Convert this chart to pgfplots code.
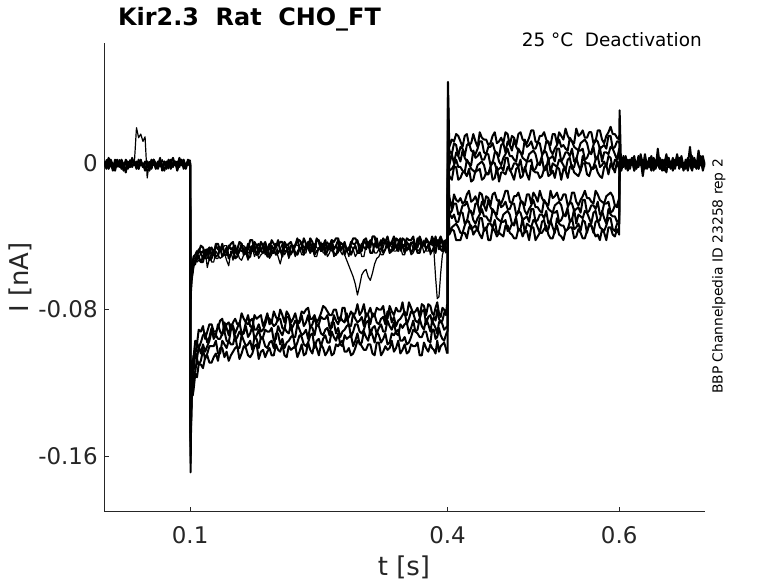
\documentclass[border=0pt]{standalone}
\usepackage{fontspec}
\setmainfont{DejaVu Sans}
\usepackage{pgfplots}
\usepackage{pgfplotstable}
\pgfplotsset{compat=1.18}
\definecolor{axc}{RGB}{38,38,38}

% time in ms, current in pA (ticks labelled in s and nA)
\pgfplotstableread{
t P1 P2 P3 P4
0 -2 1 -1 1
2.5 1 -3 2 -2
5 -3 0 -2 3
7.5 0 2 1 -1
10 -4 -1 -3 0
12.5 2 -4 0 -3
15 -1 1 -2 2
17.5 1 -2 2 -1
20 -3 2 -1 1
22.5 0 -1 -4 -4
25 -5 1 1 2
27.5 1 -3 -2 0
30 -2 0 2 -2
32.5 2 -2 -1 3
35 -1 1 0 -1
37.5 0 -3 19.5 1
40 -3 2 14 -3
42.5 1 -1 16 2
45 -2 0 12 -2
47.5 1 -4 14.5 0
50 -1 1 -8 1
52.5 -4 -2 1 -1
55 0 2 -2 -3
57.5 2 -1 0 2
60 -3 0 -3 0
62.5 1 -3 1 -2
65 -1 2 -2 3
67.5 -2 -1 2 -4
70 1 -4 -1 1
72.5 -3 1 0 -1
75 0 -2 -3 2
77.5 2 0 1 -3
80 -2 3 -2 0
82.5 1 -1 0 1
85 -4 1 -2 -2
87.5 0 -2 2 3
90 -1 2 -1 -1
92.5 2 -3 1 0
95 -3 0 -2 -2
97.5 1 -1 1 2
100 -1 2 0 0
}\pre

\pgfplotstableread{
t A1 A2 A3 A4 A5 B1 B2 B3 B4 B5
100 0 -1 1 0 -1 0 1 -1 0 -1
100.5 -80 -72 -66 -60 -56 -150 -155 -160 -164 -169
101 -68 -66 -62 -70 -64 -130 -136 -140 -144 -148
102 -57 -61 -59 -63 -62 -110 -118 -119 -127 -126
103 -54 -58 -55 -60 -59 -108 -113 -117 -121 -127
104 -51 -55 -53 -56 -57 -106 -105 -114 -115 -124
106 -50 -53 -51 -55 -52 -97 -105 -104 -114 -115
108 -48 -52 -53 -50 -54 -99 -98 -107 -107 -117
110 -49 -47 -52 -51 -53 -91 -101 -100 -110 -110
112.5 -45 -49 -49 -54 -54 -92 -98 -104 -108 -110
115 -46 -48 -53 -54 -50 -89 -94 -99 -102 -112
117.5 -50 -52 -47 -48 -52 -96 -93 -103 -107 -106
120 -50 -48 -57 -47 -52 -92 -98 -100 -104 -105
122.5 -47 -46 -52 -53 -48 -88 -95 -97 -100 -109
125 -46 -50 -50 -52 -54 -88 -90 -92 -100 -109
127.5 -50 -50 -47 -49 -54 -92 -96 -93 -100 -106
130 -44 -45 -52 -51 -48 -92 -94 -94 -97 -104
132.5 -44 -47 -52 -50 -50 -90 -88 -96 -104 -108
135 -48 -48 -46 -46 -52 -86 -92 -96 -104 -101
137.5 -45 -44 -47 -51 -51 -85 -94 -93 -97 -101
140 -49 -50 -45 -49 -49 -92 -87 -92 -99 -106
142.5 -47 -50 -45 -46 -53 -88 -90 -97 -101 -103
145 -46 -45 -50 -52 -56 -87 -94 -98 -97 -108
147.5 -44 -47 -50 -50 -48 -91 -88 -91 -99 -105
150 -43 -46 -48 -47 -53 -87 -89 -90 -99 -103
152.5 -49 -45 -51 -52 -47 -85 -93 -97 -94 -101
155 -47 -50 -51 -51 -48 -88 -90 -95 -101 -100
157.5 -43 -48 -48 -47 -52 -88 -87 -92 -101 -107
160 -44 -44 -45 -48 -53 -82 -93 -94 -94 -104
162.5 -48 -50 -45 -48 -50 -85 -92 -93 -97 -100
165 -49 -49 -47 -46 -49 -87 -87 -89 -100 -101
167.5 -47 -44 -49 -52 -53 -83 -88 -95 -99 -105
170 -42 -46 -48 -51 -46 -89 -86 -93 -97 -106
172.5 -42 -48 -45 -45 -46 -90 -85 -89 -102 -104
175 -48 -43 -45 -48 -51 -83 -91 -96 -95 -100
177.5 -45 -45 -50 -50 -48 -85 -91 -94 -96 -99
180 -44 -49 -50 -46 -52 -84 -88 -91 -101 -107
182.5 -48 -43 -44 -48 -50 -83 -92 -96 -95 -103
185 -45 -45 -44 -49 -49 -89 -91 -95 -96 -102
187.5 -43 -49 -50 -45 -47 -86 -88 -91 -100 -106
190 -47 -47 -49 -51 -46 -82 -84 -92 -101 -103
192.5 -47 -44 -46 -51 -52 -88 -85 -92 -98 -101
195 -42 -49 -48 -45 -50 -87 -87 -90 -97 -105
197.5 -44 -49 -47 -47 -46 -81 -89 -97 -101 -105
200 -46 -44 -44 -50 -47 -84 -88 -96 -93 -99
202.5 -42 -45 -49 -49 -51 -86 -85 -89 -93 -102
205 -48 -43 -47 -47 -55 -80 -85 -92 -99 -103
207.5 -48 -43 -44 -51 -50 -83 -90 -94 -96 -99
210 -43 -48 -50 -45 -46 -87 -91 -90 -101 -105
212.5 -45 -48 -48 -46 -46 -81 -84 -92 -98 -106
215 -44 -46 -45 -51 -52 -83 -84 -93 -97 -100
217.5 -43 -49 -50 -45 -49 -87 -91 -88 -95 -102
220 -47 -48 -48 -45 -47 -85 -89 -95 -94 -101
222.5 -45 -45 -44 -49 -51 -82 -86 -95 -101 -100
225 -41 -42 -45 -50 -48 -87 -88 -88 -98 -106
227.5 -47 -42 -45 -47 -46 -86 -87 -91 -94 -103
230 -46 -44 -43 -46 -50 -81 -83 -94 -95 -99
232.5 -41 -46 -49 -50 -50 -82 -89 -93 -99 -105
235 -44 -46 -49 -44 -45 -80 -87 -91 -100 -104
237.5 -46 -43 -43 -44 -47 -79 -83 -96 -98 -98
240 -41 -43 -46 -49 -49 -85 -90 -89 -94 -102
242.5 -43 -48 -48 -46 -45 -85 -88 -90 -93 -104
245 -47 -48 -44 -50 -51 -83 -84 -94 -101 -98
247.5 -41 -42 -46 -48 -51 -87 -89 -88 -97 -101
250 -43 -42 -47 -47 -46 -85 -88 -89 -96 -105
252.5 -47 -48 -43 -45 -48 -82 -84 -93 -100 -99
255 -45 -47 -49 -44 -47 -78 -85 -94 -96 -101
257.5 -42 -44 -49 -50 -46 -79 -85 -91 -94 -105
260 -47 -46 -43 -48 -51 -81 -83 -90 -98 -103
262.5 -47 -45 -45 -44 -49 -83 -90 -94 -98 -100
265 -42 -42 -48 -45 -45 -83 -90 -87 -92 -105
267.5 -43 -47 -47 -49 -51 -80 -83 -87 -95 -104
270 -41 -45 -45 -50 -50 -80 -86 -93 -97 -99
272.5 -41 -42 -49 -48 -45 -85 -88 -90 -93 -100
275 -46 -48 -43 -44 -48 -86 -84 -95 -99 -98
277.5 -46 -46 -44 -44 -50 -79 -86 -92 -100 -97
280 -44 -43 -50 -50 -45 -79 -87 -91 -94 -103
282.5 -47 -48 -53 -47 -47 -86 -82 -89 -96 -103
285 -47 -47 -56 -46 -51 -84 -89 -88 -95 -101
287.5 -44 -43 -59 -50 -45 -81 -89 -95 -94 -105
290 -41 -44 -62 -47 -47 -83 -82 -92 -100 -104
292.5 -41 -44 -66 -45 -51 -82 -85 -88 -97 -101
295 -43 -42 -72 -49 -49 -77 -87 -88 -93 -97
297.5 -45 -48 -67 -49 -46 -83 -86 -92 -99 -98
300 -45 -48 -61 -44 -51 -81 -84 -93 -98 -100
302.5 -42 -42 -59 -46 -51 -77 -89 -91 -92 -102
305 -41 -44 -58 -47 -45 -84 -82 -87 -95 -102
307.5 -46 -46 -62 -43 -46 -82 -83 -86 -97 -99
310 -46 -42 -64 -49 -44 -79 -88 -94 -91 -99
312.5 -40 -44 -60 -49 -44 -84 -82 -90 -94 -104
315 -40 -45 -55 -44 -49 -83 -83 -89 -98 -105
317.5 -46 -41 -52 -46 -49 -79 -87 -93 -92 -98
320 -45 -47 -51 -45 -47 -80 -88 -90 -94 -98
322.5 -42 -47 -48 -44 -50 -80 -85 -88 -98 -105
325 -44 -41 -46 -49 -50 -78 -84 -92 -96 -103
327.5 -43 -43 -42 -47 -47 -85 -88 -92 -93 -100
330 -40 -46 -43 -43 -44 -85 -81 -86 -99 -102
332.5 -45 -45 -47 -49 -44 -78 -81 -89 -98 -101
335 -43 -43 -48 -48 -46 -81 -87 -91 -93 -97
337.5 -40 -47 -46 -43 -48 -83 -84 -87 -94 -103
340 -46 -41 -42 -46 -48 -79 -89 -93 -92 -101
342.5 -44 -42 -42 -48 -45 -81 -86 -94 -91 -97
345 -41 -47 -48 -43 -45 -81 -85 -88 -97 -104
347.5 -46 -41 -45 -45 -50 -76 -83 -90 -97 -102
350 -45 -42 -44 -49 -50 -83 -81 -88 -95 -99
352.5 -41 -46 -48 -43 -44 -83 -88 -87 -99 -104
355 -42 -47 -45 -45 -44 -76 -85 -93 -98 -103
357.5 -42 -44 -43 -49 -50 -79 -81 -90 -95 -99
360 -40 -43 -47 -47 -49 -82 -82 -86 -91 -100
362.5 -46 -47 -47 -44 -46 -81 -86 -92 -92 -100
365 -46 -41 -42 -49 -48 -79 -87 -91 -93 -98
367.5 -40 -41 -44 -49 -47 -84 -85 -85 -95 -105
370 -43 -46 -46 -44 -44 -77 -81 -89 -95 -105
372.5 -45 -43 -42 -45 -49 -78 -80 -91 -92 -98
375 -41 -47 -48 -43 -47 -83 -88 -85 -92 -101
377.5 -43 -45 -48 -43 -44 -77 -84 -88 -97 -103
380 -44 -44 -43 -48 -50 -78 -83 -92 -98 -99
382 -40 -42 -45 -48 -48 -82 -87 -86 -91 -101
384 -46 -41 -44 -46 -47 -83 -84 -88 -91 -102
386 -40 -45 -48 -49 -62 -79 -86 -90 -96 -104
388 -45 -42 -42 -43 -74 -76 -80 -93 -95 -97
390 -42 -47 -47 -45 -73 -82 -85 -87 -90 -103
392 -40 -41 -45 -47 -60 -84 -87 -86 -94 -100
394 -43 -44 -46 -48 -50 -79 -86 -88 -96 -99
396 -46 -47 -42 -44 -47 -80 -82 -91 -97 -98
398 -44 -42 -45 -47 -49 -83 -81 -90 -94 -101
399.5 -41 -43 -48 -49 -45 -77 -83 -89 -92 -104
}\grp

\pgfplotstableread{
t A1 A2 A3 A4 A5 B1 B2 B3 B4 B5
400 -41 -43 -48 -49 -45 -77 -83 -89 -92 -104
400.5 44.5 36 30 24 18 12 6 0 -6 -10
402 9 7 -1 -4 -7 -18 -28 -27 -38 -39
405 13 5 5 -3 -9 -25 -26 -30 -35 -36
407.5 12 11 0 -1 -2 -17 -22 -28 -34 -37
410 16 10 6 2 -2 -20 -22 -32 -33 -42
412.5 15 4 4 -2 -9 -21 -28 -32 -35 -42
415 12 9 1 -2 -8 -19 -27 -27 -38 -42
417.5 9 8 7 -4 -5 -22 -23 -27 -38 -38
420 15 4 3 -5 -5 -21 -23 -33 -34 -38
422.5 16 10 1 2 -7 -17 -21 -32 -31 -41
425 10 11 0 0 -3 -15 -25 -26 -32 -35
427.5 11 7 -1 -3 -10 -21 -27 -26 -36 -34
430 16 6 7 -4 -9 -20 -28 -31 -35 -39
432.5 12 5 3 -5 -4 -18 -22 -33 -34 -37
435 9 8 4 -1 -4 -22 -22 -30 -37 -36
437.5 17 12 6 0 -3 -16 -27 -28 -30 -39
440 14 12 2 1 -9 -17 -21 -25 -30 -41
442.5 13 6 2 -1 -8 -23 -23 -29 -37 -36
445 13 5 5 -6 -5 -18 -26 -29 -36 -35
447.5 10 9 5 -6 -6 -19 -20 -31 -33 -42
450 11 9 -1 -2 -2 -23 -24 -32 -33 -42
452.5 15 11 0 1 -9 -17 -26 -25 -35 -35
455 17 7 6 0 -8 -16 -27 -27 -31 -37
457.5 11 5 6 -4 -2 -20 -28 -30 -38 -40
460 12 4 1 -3 -10 -21 -20 -31 -37 -38
462.5 14 10 -1 -2 -5 -22 -24 -32 -32 -39
465 11 11 3 -4 -5 -19 -23 -28 -32 -40
467.5 17 6 5 3 -6 -15 -21 -27 -31 -34
470 16 12 8 3 -2 -15 -25 -26 -37 -34
472.5 10 10 4 -4 -3 -21 -25 -28 -36 -38
475 15 7 4 -3 -6 -22 -22 -33 -33 -39
477.5 14 13 2 0 -9 -18 -22 -33 -34 -41
480 10 9 1 0 -3 -18 -28 -29 -30 -41
482.5 16 7 8 -2 -2 -16 -27 -26 -37 -36
485 17 6 6 2 -8 -20 -21 -27 -36 -36
487.5 13 5 3 -5 -7 -22 -21 -31 -30 -40
490 12 13 2 -4 -2 -23 -26 -30 -38 -37
492.5 11 9 1 1 -6 -17 -28 -29 -33 -37
495 14 10 5 1 -9 -17 -25 -32 -34 -42
497.5 18 12 6 2 -1 -22 -23 -25 -35 -35
500 18 8 7 -4 -4 -16 -20 -25 -31 -35
502.5 12 8 5 -3 -5 -18 -24 -32 -32 -42
505 11 11 0 0 -5 -21 -24 -31 -35 -40
507.5 15 11 0 -1 -8 -15 -26 -28 -38 -38
510 15 5 4 3 -7 -19 -27 -28 -32 -38
512.5 17 6 7 -4 -3 -21 -20 -30 -31 -36
515 13 12 6 -3 -1 -22 -22 -26 -37 -34
517.5 11 12 2 3 -7 -23 -25 -33 -36 -39
520 10 7 3 -5 -6 -15 -26 -32 -31 -41
522.5 16 5 4 0 -4 -19 -27 -27 -35 -41
525 16 8 1 -1 -8 -18 -23 -27 -38 -37
527.5 11 10 8 -2 -2 -16 -22 -26 -30 -34
530 17 13 8 2 -3 -20 -21 -32 -33 -39
532.5 15 9 1 1 -9 -20 -23 -31 -34 -40
535 13 10 3 -1 -3 -17 -28 -28 -34 -42
537.5 19 8 6 -4 -4 -17 -28 -29 -37 -37
540 15 7 6 2 -8 -23 -24 -25 -36 -36
542.5 13 14 4 3 -2 -22 -21 -32 -32 -35
545 12 12 8 -3 -1 -16 -22 -31 -30 -35
547.5 11 9 1 -2 -5 -16 -26 -25 -36 -41
550 19 8 2 3 -6 -21 -25 -33 -35 -40
552.5 15 7 7 -1 -7 -23 -24 -28 -33 -36
555 16 11 7 -4 -4 -20 -27 -29 -37 -38
557.5 18 12 8 4 0 -18 -20 -30 -31 -41
560 14 13 2 1 0 -15 -20 -26 -32 -41
562.5 14 11 3 0 -6 -19 -27 -27 -38 -37
565 17 6 6 0 -7 -19 -26 -30 -33 -34
567.5 17 6 5 -3 -3 -21 -23 -33 -34 -34
570 11 10 9 -2 -3 -22 -23 -27 -38 -37
572.5 12 13 2 2 -1 -15 -25 -26 -32 -40
575 18 12 3 4 -5 -17 -21 -32 -31 -39
577.5 18 8 9 -2 -7 -20 -28 -31 -35 -42
580 13 9 1 -1 -8 -21 -27 -26 -36 -36
582.5 11 10 6 1 -2 -22 -22 -30 -37 -38
585 15 8 6 -2 -1 -18 -22 -33 -34 -42
587.5 17 15 5 4 -6 -17 -21 -25 -30 -35
590 20 15 9 3 0 -16 -27 -28 -30 -35
592.5 16 8 8 -3 -2 -18 -26 -29 -36 -39
595 16 9 5 2 -5 -23 -23 -29 -37 -40
597.5 14 12 2 1 1 -23 -24 -32 -33 -36
600 13 12 8 -3 -3 -19 -20 -31 -33 -39
600.5 29 4 2 0 -2 -3 -2 1 -1 2
602 2 -1 1 -2 0 1 -2 0 2 -1
}\tail

\pgfplotstableread{
t Q1 Q2 Q3 Q4
600 0 -1 1 -3
602.5 3 -2 -4 2
605 -2 4 1 -1
607.5 1 -3 3 4
610 -4 2 -1 -2
612.5 2 -1 -3 0
615 -1 3 2 3
617.5 4 -4 0 -4
620 -3 1 -2 1
622.5 0 -2 4 -1
625 2 5 -1 2
627.5 -7 -1 2 -3
630 1 2 -3 5
632.5 -2 -3 1 -2
635 3 0 -2 0
637.5 -1 4 3 -4
640 2 -2 -4 3
642.5 -3 1 0 1
645 8 -1 2 -1
647.5 -2 3 -3 -3
650 1 -4 1 2
652.5 -4 2 -1 0
655 2 -1 5 -5
657.5 0 3 -2 3
660 -3 -2 1 -1
662.5 3 1 -4 2
665 -1 -3 2 -2
667.5 5 2 -1 4
670 -2 -1 3 -3
672.5 1 4 -2 1
675 -4 -2 0 0
677.5 2 1 -3 -2
680 -1 -4 2 3
682.5 9 2 -1 -1
685 -2 -1 4 -4
687.5 1 3 -2 2
690 -3 -2 1 1
692.5 2 7 -3 -3
695 -1 -1 2 4
697.5 4 2 -4 -1
700 -2 -1 1 0
}\post

\begin{document}
\begin{tikzpicture}
\begin{axis}[
  at={(0,0)}, anchor=south west,
  scale only axis, width=600.7bp, height=468.7bp,
  xmin=0, xmax=700, ymin=-190.5, ymax=65.8,
  axis x line*=bottom, axis y line*=left,
  axis line style={draw=axc, line width=0.6bp},
  xtick={100,400,600}, xticklabels={0.1,0.4,0.6},
  ytick={-160,-80,0}, yticklabels={-0.16,-0.08,0},
  minor tick num=0,
  tick align=inside, major tick length=5bp,
  tick style={draw=axc, line width=0.6bp},
  tick label style={font=\fontsize{23}{27}\selectfont, text=axc},
  xticklabel style={anchor=north, inner sep=0pt, yshift=-15bp},
  yticklabel style={anchor=east, inner sep=0pt, xshift=-6.5bp},
  tr/.style={draw=black, line width=2bp, mark=none, solid, line join=round},
  thin tr/.style={draw=black, line width=1.2bp, mark=none, solid, line join=round},
]
\addplot[tr] table[x=t,y=P1]{\pre};
\addplot[tr] table[x=t,y=P2]{\pre};
\addplot[thin tr] table[x=t,y=P3]{\pre};
\addplot[tr] table[x=t,y=P4]{\pre};
\addplot[tr] table[x=t,y=A1]{\grp};
\addplot[tr] table[x=t,y=A2]{\grp};
\addplot[thin tr] table[x=t,y=A3]{\grp};
\addplot[tr] table[x=t,y=A4]{\grp};
\addplot[thin tr] table[x=t,y=A5]{\grp};
\addplot[tr] table[x=t,y=B1]{\grp};
\addplot[tr] table[x=t,y=B2]{\grp};
\addplot[tr] table[x=t,y=B3]{\grp};
\addplot[tr] table[x=t,y=B4]{\grp};
\addplot[tr] table[x=t,y=B5]{\grp};
\addplot[tr] table[x=t,y=A1]{\tail};
\addplot[tr] table[x=t,y=A2]{\tail};
\addplot[tr] table[x=t,y=A3]{\tail};
\addplot[tr] table[x=t,y=A4]{\tail};
\addplot[tr] table[x=t,y=A5]{\tail};
\addplot[tr] table[x=t,y=B1]{\tail};
\addplot[tr] table[x=t,y=B2]{\tail};
\addplot[tr] table[x=t,y=B3]{\tail};
\addplot[tr] table[x=t,y=B4]{\tail};
\addplot[tr] table[x=t,y=B5]{\tail};
\addplot[tr] table[x=t,y=Q1]{\post};
\addplot[tr] table[x=t,y=Q2]{\post};
\addplot[tr] table[x=t,y=Q3]{\post};
\addplot[tr] table[x=t,y=Q4]{\post};
\end{axis}
\node[anchor=base, inner sep=0pt, font=\fontsize{26}{30}\selectfont, text=axc] at (299.7bp,-63.3bp) {t [s]};
\node[anchor=base, rotate=90, inner sep=0pt, font=\fontsize{26}{30}\selectfont, text=axc] at (-76bp,234.2bp) {I [nA]};
\node[anchor=base west, inner sep=0pt, font=\fontsize{24}{29}\selectfont\bfseries] at (13.7bp,485.7bp) {Kir2.3\ \ Rat\ \ CHO\_FT};
\node[anchor=base east, inner sep=0pt, font=\fontsize{18.5}{22}\selectfont] at (597.7bp,465bp) {25 °C\ \ Deactivation};
\node[anchor=base, rotate=90, inner sep=0pt, font=\fontsize{13.9}{17}\selectfont] at (618.4bp,235.2bp) {BBP Channelpedia ID 23258 rep 2};
\pgfresetboundingbox
\path[use as bounding box] (-104.3bp,-71.3bp) rectangle (673.7bp,511.7bp);
\end{tikzpicture}
\end{document}
